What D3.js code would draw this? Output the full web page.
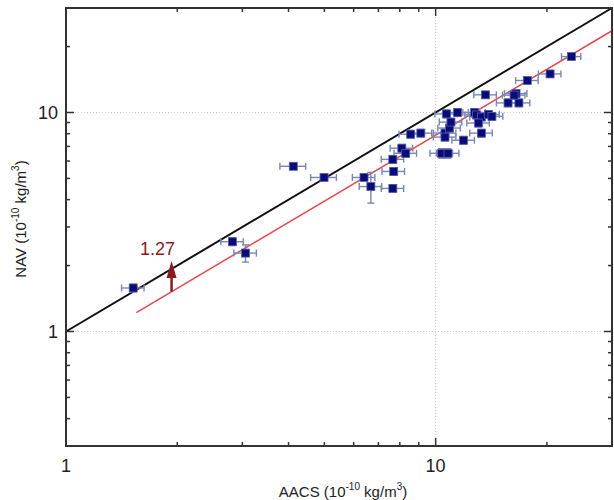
<!DOCTYPE html>
<html>
<head>
<meta charset="utf-8">
<script src="https://cdn.jsdelivr.net/npm/d3@7"></script>
<style>
  body { margin: 0; background: #fff; }
  text { font-family: "Liberation Sans", Arial, sans-serif; }
</style>
</head>
<body>
<div class="canvas"></div>
<script>
// data (x = AACS, y = NAV, both 10^-10 kg/m3)
const aacs = [1.52, 2.82, 3.06, 4.12, 4.99, 6.40, 6.68, 7.66, 7.70, 7.66, 8.10, 8.30, 8.56, 9.12,
  10.38, 10.80, 10.6, 10.6, 10.9, 11.0, 10.7, 11.46, 12.74, 12.9, 13.3, 13.06, 13.3, 11.9,
  13.9, 14.2, 13.64, 15.7, 16.5, 16.8, 16.3, 17.7, 20.4, 23.3];
const nav = [1.58, 2.57, 2.28, 5.68, 5.05, 5.05, 4.59, 6.11, 5.38, 4.50, 6.87, 6.51, 7.96, 8.05,
  6.51, 6.51, 8.05, 7.72, 8.49, 9.04, 9.85, 10.0, 10.0, 9.75, 9.54, 8.95, 8.05, 7.47,
  9.8, 9.6, 12.04, 11.06, 12.2, 11.06, 12.0, 14.0, 15.0, 18.0];
// relative errors
const aacsErr = [0.07, 0.07, 0.07, 0.08, 0.08, 0.07, 0.07, 0.07, 0.07, 0.07, 0.07, 0.07, 0.07, 0.07,
  0.07, 0.07, 0.07, 0.07, 0.07, 0.07, 0.07, 0.07, 0.07, 0.07, 0.07, 0.07, 0.07, 0.07,
  0.07, 0.07, 0.07, 0.07, 0.07, 0.07, 0.07, 0.07, 0.07, 0.06];
const navErr = [0.04, 0.04, 0.09, 0.03, 0.03, 0.03, 0.16, 0.04, 0.04, 0.04, 0.04, 0.04, 0.04, 0.04,
  0.05, 0.05, 0.04, 0.04, 0.04, 0.04, 0.04, 0.04, 0.04, 0.04, 0.04, 0.04, 0.04, 0.04,
  0.04, 0.04, 0.03, 0.04, 0.04, 0.04, 0.04, 0.03, 0.03, 0.03];
const ratio = 1.27;
const fitRange = [1.55, 30];
const arrowX = 1.93;
const xTicks = [1, 10];
const yTicks = [1, 10];
const xMinor = [2, 3, 4, 5, 6, 7, 8, 9, 20];
const yMinor = [0.4, 0.5, 0.6, 0.7, 0.8, 0.9, 2, 3, 4, 5, 6, 7, 8, 9, 20];

const margin = {top: 8, right: 2, bottom: 54, left: 66},
    width = 614 - margin.left - margin.right,
    height = 500 - margin.top - margin.bottom;

const svg = d3.select(".canvas")
  .append("svg")
    .attr("width", 614)
    .attr("height", 500)
  .append("g")
    .attr("transform", `translate(${margin.left},${margin.top})`);

const x = d3.scaleLog().domain([1, 30]).range([0, width]);
const y = d3.scaleLog().domain([0.3, 30]).range([height, 0]);

// dotted grid at decades
svg.selectAll(".gx").data(xTicks.slice(1)).join("line")
    .attr("x1", d => x(d)).attr("x2", d => x(d))
    .attr("y1", 0).attr("y2", height)
    .attr("stroke", "#ccc").attr("stroke-dasharray", "1,2");
svg.selectAll(".gy").data(yTicks).join("line")
    .attr("x1", 0).attr("x2", width)
    .attr("y1", d => y(d)).attr("y2", d => y(d))
    .attr("stroke", "#ccc").attr("stroke-dasharray", "1,2");

// tick marks on all four sides, pointing inward
const tickCol = "#333";
function xTickMarks(vals, len) {
  [[height, -len], [0, len]].forEach(([y0, dy]) => {
    svg.append("g").selectAll("line").data(vals).join("line")
      .attr("x1", d => x(d)).attr("x2", d => x(d))
      .attr("y1", y0).attr("y2", y0 + dy)
      .attr("stroke", tickCol).attr("stroke-width", 1.5);
  });
}
function yTickMarks(vals, len) {
  [[0, len], [width, -len]].forEach(([x0, dx]) => {
    svg.append("g").selectAll("line").data(vals).join("line")
      .attr("y1", d => y(d)).attr("y2", d => y(d))
      .attr("x1", x0).attr("x2", x0 + dx)
      .attr("stroke", tickCol).attr("stroke-width", 1.5);
  });
}
xTickMarks(xTicks, 8); xTickMarks(xMinor, 4);
yTickMarks(yTicks, 8); yTickMarks(yMinor, 4);

// tick labels
svg.selectAll(".xl").data(xTicks).join("text")
    .attr("x", d => x(d)).attr("y", height + 26)
    .attr("text-anchor", "middle")
    .style("font-size", "18px").attr("fill", "#222")
    .text(d => d);
svg.selectAll(".yl").data(yTicks).join("text")
    .attr("x", -8).attr("y", d => y(d) + 7)
    .attr("text-anchor", "end")
    .style("font-size", "18px").attr("fill", "#222")
    .text(d => d);

// 1:1 line and fitted line
const line = d3.line().x(d => x(d[0])).y(d => y(d[1]));
svg.append("path")
    .attr("d", line([[1, 1], [30, 30]]))
    .attr("stroke", "#111").attr("stroke-width", 2).attr("fill", "none");
svg.append("path")
    .attr("d", line(fitRange.map(v => [v, v / ratio])))
    .attr("stroke", "#e8474f").attr("stroke-width", 1.5).attr("fill", "none");

// error bars
const pts = aacs.map((v, i) => ({x: v, y: nav[i], ex: aacsErr[i], ey: navErr[i]}));
const errCol = "#7888b4";
const eb = svg.append("g").attr("stroke", errCol).attr("stroke-width", 1.4);
pts.forEach(d => {
  const cx = x(d.x), cy = y(d.y);
  const x0 = x(d.x * (1 - d.ex)), x1 = x(d.x * (1 + d.ex));
  const y0 = y(d.y * (1 - d.ey)), y1 = y(d.y * (1 + d.ey));
  eb.append("line").attr("x1", x0).attr("x2", x1).attr("y1", cy).attr("y2", cy);
  eb.append("line").attr("x1", x0).attr("x2", x0).attr("y1", cy - 3.5).attr("y2", cy + 3.5);
  eb.append("line").attr("x1", x1).attr("x2", x1).attr("y1", cy - 3.5).attr("y2", cy + 3.5);
  eb.append("line").attr("x1", cx).attr("x2", cx).attr("y1", y0).attr("y2", y1);
  eb.append("line").attr("x1", cx - 3.5).attr("x2", cx + 3.5).attr("y1", y0).attr("y2", y0);
  eb.append("line").attr("x1", cx - 3.5).attr("x2", cx + 3.5).attr("y1", y1).attr("y2", y1);
});

// markers
svg.selectAll(".pt").data(pts).join("rect")
    .attr("x", d => x(d.x) - 4).attr("y", d => y(d.y) - 4)
    .attr("width", 8).attr("height", 8)
    .attr("fill", "#0a0a78").attr("stroke", "#5560a8").attr("stroke-width", 0.8);

// ratio arrow
const arrowCol = "#8b1a1a";
const ax = x(arrowX), ayLow = y(arrowX / ratio), ayHigh = y(arrowX);
svg.append("line")
    .attr("x1", ax).attr("x2", ax).attr("y1", ayLow).attr("y2", ayHigh + 8)
    .attr("stroke", arrowCol).attr("stroke-width", 2.5);
svg.append("path")
    .attr("d", `M${ax},${ayHigh - 8} L${ax - 5},${ayHigh + 9} L${ax + 5},${ayHigh + 9} Z`)
    .attr("fill", arrowCol);
svg.append("text")
    .attr("x", ax - 14).attr("y", ayHigh - 14)
    .attr("text-anchor", "middle")
    .style("font-size", "18px").attr("fill", arrowCol)
    .text(ratio);

// frame
svg.append("rect")
    .attr("width", width).attr("height", height)
    .attr("fill", "none").attr("stroke", "#333").attr("stroke-width", 2);

// axis labels
const xl = svg.append("text")
    .attr("x", width / 2 + 4).attr("y", height + 51)
    .attr("text-anchor", "middle")
    .style("font-size", "15px").attr("fill", "#222");
xl.append("tspan").text("AACS (10");
xl.append("tspan").attr("dy", -7).style("font-size", "10px").text("-10");
xl.append("tspan").attr("dy", 7).text(" kg/m");
xl.append("tspan").attr("dy", -7).style("font-size", "10px").text("3");
xl.append("tspan").attr("dy", 7).text(")");

const yl = svg.append("text")
    .attr("transform", "rotate(-90)")
    .attr("x", -height / 2 + 8).attr("y", -margin.left + 26)
    .attr("text-anchor", "middle")
    .style("font-size", "15px").attr("fill", "#222");
yl.append("tspan").text("NAV (10");
yl.append("tspan").attr("dy", -7).style("font-size", "10px").text("-10");
yl.append("tspan").attr("dy", 7).text(" kg/m");
yl.append("tspan").attr("dy", -7).style("font-size", "10px").text("3");
yl.append("tspan").attr("dy", 7).text(")");
</script>
</body>
</html>
